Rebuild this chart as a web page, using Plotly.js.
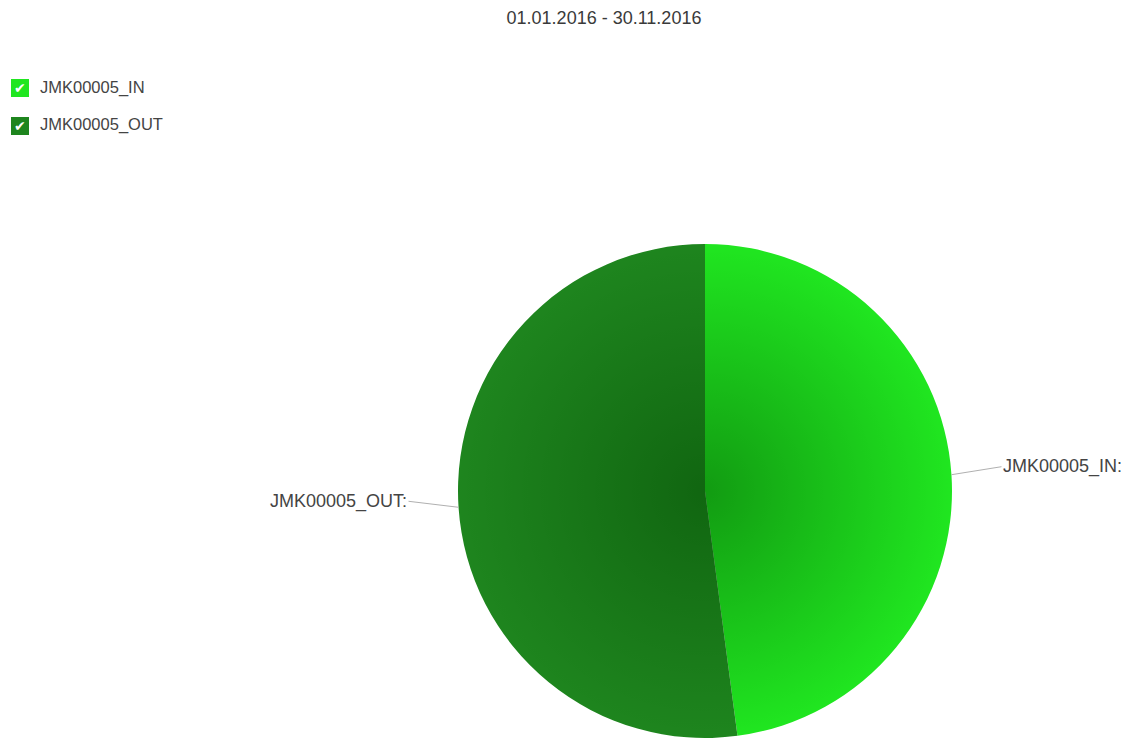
<!DOCTYPE html>
<html>
<head>
<meta charset="utf-8">
<script src="https://cdn.plot.ly/plotly-3.0.1.min.js"></script>
<style>html,body{margin:0;padding:0;background:#fff;}#chart{width:1141px;height:738px;}</style>
</head>
<body>
<div id="chart"></div>
<script>
// Data
var labels = ["JMK00005_IN", "JMK00005_OUT"];
var values = [47.9, 52.1];
var colors = ["#20e620", "#1e851e"];
var titleText = "01.01.2016 - 30.11.2016";

var W = 1141, H = 738;
var cx = 705, cy = 491, r = 247;
var dom = {x: [(cx - r) / W, (cx + r) / W], y: [(H - cy - r) / H, (H - cy + r) / H]};

var total = values.reduce(function(a, b){return a + b;}, 0);
var annotations = [];
var shapes = [];
var cum = 0;
values.forEach(function(v, i){
  var mid = (cum + v / 2) / total * 2 * Math.PI; // clockwise from top
  cum += v;
  var px = cx + r * Math.sin(mid);
  var py = cy - r * Math.cos(mid);
  var right = Math.sin(mid) >= 0;
  annotations.push({
    x: px / W, y: 1 - py / H, xref: "paper", yref: "paper",
    text: labels[i] + ":", showarrow: true, arrowhead: 0, arrowwidth: 1,
    arrowcolor: "#b0b0b0", ax: right ? 50 : -50, ay: right ? -8 : -6,
    xanchor: right ? "left" : "right", yanchor: "middle",
    font: {family: "Liberation Sans, Arial, sans-serif", size: 18, color: "#444"}
  });
});

// legend (checkbox style)
labels.forEach(function(l, i){
  var top = 79 + i * 38;
  shapes.push({type: "rect", xref: "paper", yref: "paper",
    x0: 11 / W, x1: 29 / W, y0: 1 - (top + 18) / H, y1: 1 - top / H,
    fillcolor: colors[i], line: {width: 0}, layer: "above"});
  annotations.push({x: 20 / W, y: 1 - (top + 9) / H, xref: "paper", yref: "paper",
    text: "\u2714", showarrow: false, xanchor: "center", yanchor: "middle",
    font: {family: "DejaVu Sans", size: 14, color: "#ffffff"}});
  annotations.push({x: 38 / W, y: 1 - (top + 8) / H, xref: "paper", yref: "paper",
    text: l, showarrow: false, xanchor: "left", yanchor: "middle",
    font: {family: "Liberation Sans, Arial, sans-serif", size: 16.5, color: "#444"}});
});

var grad = '<svg xmlns="http://www.w3.org/2000/svg" width="200" height="200"><defs><radialGradient id="g" cx="50%" cy="50%" r="50%"><stop offset="0" stop-color="#004000" stop-opacity="0.45"/><stop offset="1" stop-color="#004000" stop-opacity="0"/></radialGradient></defs><circle cx="100" cy="100" r="100" fill="url(#g)"/></svg>';

var trace = {
  type: "pie", labels: labels, values: values, sort: false, direction: "clockwise",
  rotation: 0, marker: {colors: colors, line: {width: 0}},
  textinfo: "none", hoverinfo: "label+percent", domain: dom, showlegend: false
};

var layout = {
  width: W, height: H, margin: {l: 0, r: 0, t: 0, b: 0},
  paper_bgcolor: "#fff", plot_bgcolor: "#fff", showlegend: false,
  title: {text: titleText, x: 604 / W, xanchor: "center", y: 1 - 18 / H, yanchor: "middle",
    font: {family: "Liberation Sans, Arial, sans-serif", size: 18, color: "#3a3a3a"}},
  annotations: annotations, shapes: shapes,
  images: [{source: "data:image/svg+xml;charset=utf-8," + encodeURIComponent(grad),
    xref: "paper", yref: "paper", x: dom.x[0], y: dom.y[1],
    sizex: dom.x[1] - dom.x[0], sizey: dom.y[1] - dom.y[0],
    xanchor: "left", yanchor: "top", sizing: "stretch", layer: "above"}]
};

Plotly.newPlot("chart", [trace], layout, {displayModeBar: false, staticPlot: true});
</script>
</body>
</html>
